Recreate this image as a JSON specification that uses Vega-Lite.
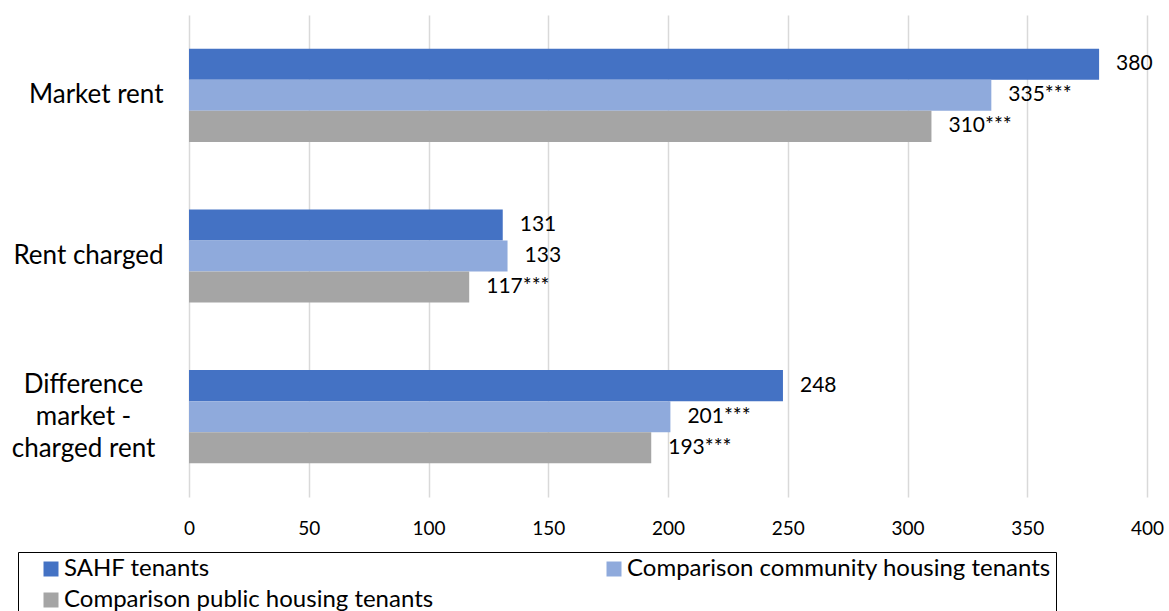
{
  "$schema": "https://vega.github.io/schema/vega-lite/v6.json",
  "width": 958,
  "height": 482,
  "autosize": {"type": "none"},
  "padding": {"left": 189, "top": 15, "right": 22, "bottom": 114},
  "background": "white",
  "config": {
    "view": {"stroke": null},
    "font": "Lato",
    "text": {"font": "Lato"}
  },
  "data": {
    "values": [
      {"measure": "Market rent", "group": "SAHF tenants", "rent": 380, "label": "380"},
      {"measure": "Market rent", "group": "Comparison community housing tenants", "rent": 335, "label": "335***"},
      {"measure": "Market rent", "group": "Comparison public housing tenants", "rent": 310, "label": "310***"},
      {"measure": "Rent charged", "group": "SAHF tenants", "rent": 131, "label": "131"},
      {"measure": "Rent charged", "group": "Comparison community housing tenants", "rent": 133, "label": "133"},
      {"measure": "Rent charged", "group": "Comparison public housing tenants", "rent": 117, "label": "117***"},
      {"measure": "Difference market - charged rent", "group": "SAHF tenants", "rent": 248, "label": "248"},
      {"measure": "Difference market - charged rent", "group": "Comparison community housing tenants", "rent": 201, "label": "201***"},
      {"measure": "Difference market - charged rent", "group": "Comparison public housing tenants", "rent": 193, "label": "193***"}
    ]
  },
  "encoding": {
    "y": {
      "field": "measure",
      "type": "nominal",
      "sort": ["Market rent", "Rent charged", "Difference market - charged rent"],
      "scale": {"paddingInner": 0.42, "paddingOuter": 0.21},
      "axis": {
        "title": null,
        "domain": false,
        "ticks": false,
        "labelFont": "Lato",
        "labelFontSize": 26,
        "labelColor": "#000000",
        "labelLineHeight": 32,
        "labelExpr": "datum.value == 'Difference market - charged rent' ? ['Difference', 'market -', 'charged rent'] : datum.value",
        "labelAlign": {"condition": {"test": "datum.value == 'Difference market - charged rent'", "value": "center"}, "value": "right"},
        "labelPadding": {"condition": {"test": "datum.value == 'Difference market - charged rent'", "value": 106}, "value": 26},
        "labelOffset": {"condition": {"test": "datum.value == 'Difference market - charged rent'", "value": -32}, "value": 0}
      }
    },
    "yOffset": {
      "field": "group",
      "type": "nominal",
      "sort": ["SAHF tenants", "Comparison community housing tenants", "Comparison public housing tenants"],
      "scale": {"paddingInner": 0, "paddingOuter": 0}
    },
    "x": {
      "field": "rent",
      "type": "quantitative",
      "scale": {"domain": [0, 400], "nice": false},
      "axis": {
        "title": null,
        "values": [0, 50, 100, 150, 200, 250, 300, 350, 400],
        "grid": true,
        "gridColor": "#D9D9D9",
        "gridWidth": 1.5,
        "domain": false,
        "ticks": false,
        "labelFont": "Lato",
        "labelFontSize": 19,
        "labelColor": "#000000",
        "labelPadding": 22,
        "labelFlush": false
      }
    }
  },
  "layer": [
    {
      "mark": {"type": "bar"},
      "encoding": {
        "color": {
          "field": "group",
          "type": "nominal",
          "sort": ["SAHF tenants", "Comparison community housing tenants", "Comparison public housing tenants"],
          "scale": {
            "domain": ["SAHF tenants", "Comparison community housing tenants", "Comparison public housing tenants"],
            "range": ["#4472C4", "#8FAADC", "#A5A5A5"]
          },
          "legend": {
            "title": null,
            "orient": "none",
            "legendX": -171,
            "legendY": 537,
            "direction": "horizontal",
            "columns": 2,
            "columnPadding": 152,
            "rowPadding": 7,
            "padding": 5,
            "strokeColor": "#000000",
            "fillColor": "white",
            "symbolType": "square",
            "symbolSize": 225,
            "symbolStrokeWidth": 0,
            "symbolOffset": 16,
            "labelOffset": 1,
            "labelFont": "Lato",
            "labelFontSize": 24,
            "labelColor": "#000000",
            "labelLimit": 600
          }
        }
      }
    },
    {
      "mark": {"type": "text", "align": "left", "baseline": "middle", "dx": 17, "fontSize": 21, "font": "Lato", "color": "#000000"},
      "encoding": {
        "text": {"field": "label"}
      }
    }
  ]
}
